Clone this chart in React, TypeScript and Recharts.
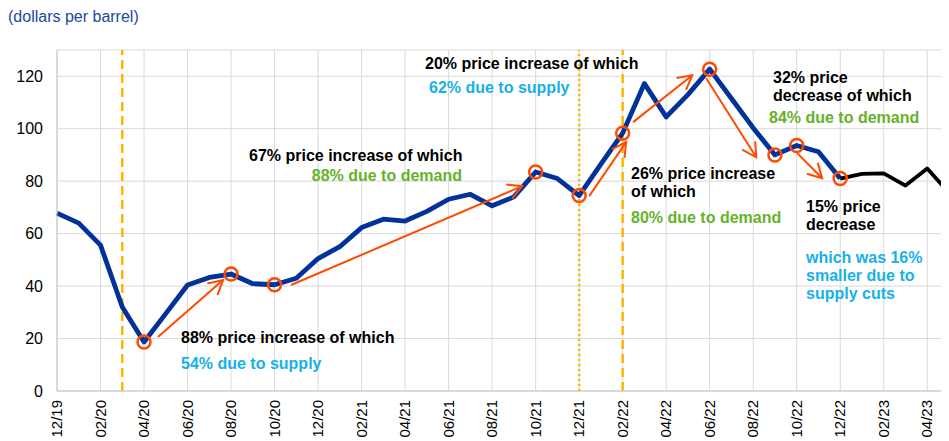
import { LineChart, Line, XAxis, YAxis, CartesianGrid, ReferenceLine, ReferenceDot } from 'recharts';

// monthly Brent price, 12/19 .. 05/23
const months = [
  '12/19', '01/20', '02/20', '03/20', '04/20', '05/20', '06/20', '07/20', '08/20', '09/20', '10/20', '11/20',
  '12/20', '01/21', '02/21', '03/21', '04/21', '05/21', '06/21', '07/21', '08/21', '09/21', '10/21', '11/21',
  '12/21', '01/22', '02/22', '03/22', '04/22', '05/22', '06/22', '07/22', '08/22', '09/22', '10/22', '11/22',
  '12/22', '01/23', '02/23', '03/23', '04/23', '05/23'
];
const prices = [
  67.8, 64, 55.6, 32, 18.7, 29.5, 40.4, 43.3, 44.6, 40.9, 40.5, 43,
  50.5, 55, 62.3, 65.5, 64.8, 68.5, 73.1, 75, 70.6, 74, 83.5, 81,
  74.5, 86.5, 98.3, 117.2, 104.5, 113, 122.7, 111.5, 100.3, 90, 93.6, 91.2,
  81, 82.8, 83, 78.3, 84.8, 75.6
];
// last month shown in blue; the rest is drawn in black
const splitMonth = '12/22';
const tickLabels = months.filter((_, i) => i % 2 === 0);
const circledMonths = ['04/20', '08/20', '10/20', '10/21', '12/21', '02/22', '06/22', '09/22', '10/22', '12/22'];
const dashedMonths = ['03/20', '02/22'];
const dottedMonths = ['12/21'];

// arrows in data units: [from month index, from price, to month index, to price]
const arrows = [
  [4.64, 20.6, 7.63, 42.3],
  [10.76, 40.4, 21.38, 78.1],
  [24.46, 74.3, 26.16, 94.9],
  [26.48, 102.5, 29.2, 120.4],
  [29.84, 119.2, 32.14, 89.1],
  [34.02, 90.7, 35.17, 81.1]
];

const BLACK = '#000000';
const GREEN = '#66b22a';
const CYAN = '#16b1e8';
const ORANGE = '#ff4b00';
const YELLOW = '#ffb400';

const notes = [
  { x: 181, y: 337, text: '88% price increase of which', color: BLACK },
  { x: 181, y: 363, text: '54% due to supply', color: CYAN },
  { x: 249, y: 155, text: '67% price increase of which', color: BLACK },
  { x: 462, y: 175, text: '88% due to demand', color: GREEN, anchor: 'end' },
  { x: 425, y: 63, text: '20% price increase of which', color: BLACK },
  { x: 429, y: 87, text: '62% due to supply', color: CYAN },
  { x: 631, y: 173, text: '26% price increase', color: BLACK },
  { x: 631, y: 191, text: 'of which', color: BLACK },
  { x: 631, y: 217, text: '80% due to demand', color: GREEN },
  { x: 773, y: 77, text: '32% price', color: BLACK },
  { x: 773, y: 95, text: 'decrease of which', color: BLACK },
  { x: 769, y: 117, text: '84% due to demand', color: GREEN },
  { x: 806, y: 206, text: '15% price', color: BLACK },
  { x: 806, y: 224, text: 'decrease', color: BLACK },
  { x: 806, y: 257, text: 'which was 16%', color: CYAN },
  { x: 806, y: 275, text: 'smaller due to', color: CYAN },
  { x: 806, y: 293, text: 'supply cuts', color: CYAN }
];

const FONT = '"Liberation Sans", Arial, sans-serif';
const splitIdx = months.indexOf(splitMonth);

const data = months.map((m, i) => ({
  i,
  month: m,
  blue: i <= splitIdx ? prices[i] : null,
  black: i >= splitIdx ? prices[i] : null
}));

function Arrow(props: any) {
  const { x1, y1, x2, y2 } = props;
  const ang = Math.atan2(y2 - y1, x2 - x1);
  const len = 16;
  const spread = 0.5;
  const ax = x2 - len * Math.cos(ang - spread);
  const ay = y2 - len * Math.sin(ang - spread);
  const bx = x2 - len * Math.cos(ang + spread);
  const by = y2 - len * Math.sin(ang + spread);
  return (
    <g>
      <line x1={x1} y1={y1} x2={x2} y2={y2} stroke={ORANGE} strokeWidth={2} />
      <polyline points={`${ax},${ay} ${x2},${y2} ${bx},${by}`} fill="none" stroke={ORANGE} strokeWidth={2} />
    </g>
  );
}

function MonthTick(props: any) {
  const { x, y, payload } = props;
  return (
    <text
      x={x}
      y={y}
      dy={5}
      transform={`rotate(-90, ${x}, ${y})`}
      textAnchor="end"
      fontSize={15}
      fontFamily={FONT}
      fill="#000"
    >
      {months[payload.value]}
    </text>
  );
}

export default function App() {
  return (
    <div style={{ position: 'relative', width: 949, height: 441, margin: '-8px 0 0 -8px', background: '#fff' }}>
      <LineChart width={949} height={441} data={data} margin={{ top: 50, right: 0, left: 0, bottom: 0 }}>
        <CartesianGrid stroke="#d9d9d9" strokeWidth={1} />
        <XAxis
          type="number"
          dataKey="i"
          domain={[0, months.length - 1]}
          ticks={tickLabels.map(t => months.indexOf(t))}
          tick={<MonthTick />}
          tickLine={false}
          axisLine={{ stroke: '#c8c8c8' }}
          height={50}
          interval={0}
          tickMargin={3}
        />
        <YAxis
          domain={[0, 130]}
          ticks={[0, 20, 40, 60, 80, 100, 120]}
          tickLine={false}
          axisLine={{ stroke: '#c8c8c8' }}
          width={57}
          tickMargin={8}
          tick={{ fontSize: 16, fill: '#000', fontFamily: FONT }}
        />
        {dashedMonths.map(m => (
          <ReferenceLine key={m} x={months.indexOf(m)} stroke={YELLOW} strokeWidth={2.5} strokeDasharray="9 5" />
        ))}
        {dottedMonths.map(m => (
          <ReferenceLine key={m} x={months.indexOf(m)} stroke={YELLOW} strokeWidth={2.5} strokeDasharray="2 3" />
        ))}
        <Line
          dataKey="blue"
          stroke="#003299"
          strokeWidth={4.8}
          strokeLinejoin="round"
          dot={false}
          isAnimationActive={false}
        />
        <Line
          dataKey="black"
          stroke="#000"
          strokeWidth={3.8}
          strokeLinejoin="round"
          dot={false}
          isAnimationActive={false}
        />
        {arrows.map((a, k) => (
          <ReferenceLine
            key={k}
            segment={[{ x: a[0], y: a[1] }, { x: a[2], y: a[3] }]}
            shape={Arrow}
          />
        ))}
        {circledMonths.map(m => {
          const idx = months.indexOf(m);
          return (
            <ReferenceDot
              key={m}
              x={idx}
              y={prices[idx]}
              r={6.5}
              fill="none"
              stroke={ORANGE}
              strokeWidth={2.5}
            />
          );
        })}
      </LineChart>
      <svg
        width={949}
        height={441}
        style={{ position: 'absolute', left: 0, top: 0, pointerEvents: 'none' }}
      >
        <text x={8} y={22} fontSize={16} fontFamily={FONT} fill="#2248a0">(dollars per barrel)</text>
        {notes.map((n, k) => (
          <text
            key={k}
            x={n.x}
            y={n.y + 6}
            fontSize={16}
            fontWeight="bold"
            fontFamily={FONT}
            fill={n.color}
            textAnchor={n.anchor || 'start'}
          >
            {n.text}
          </text>
        ))}
      </svg>
    </div>
  );
}
